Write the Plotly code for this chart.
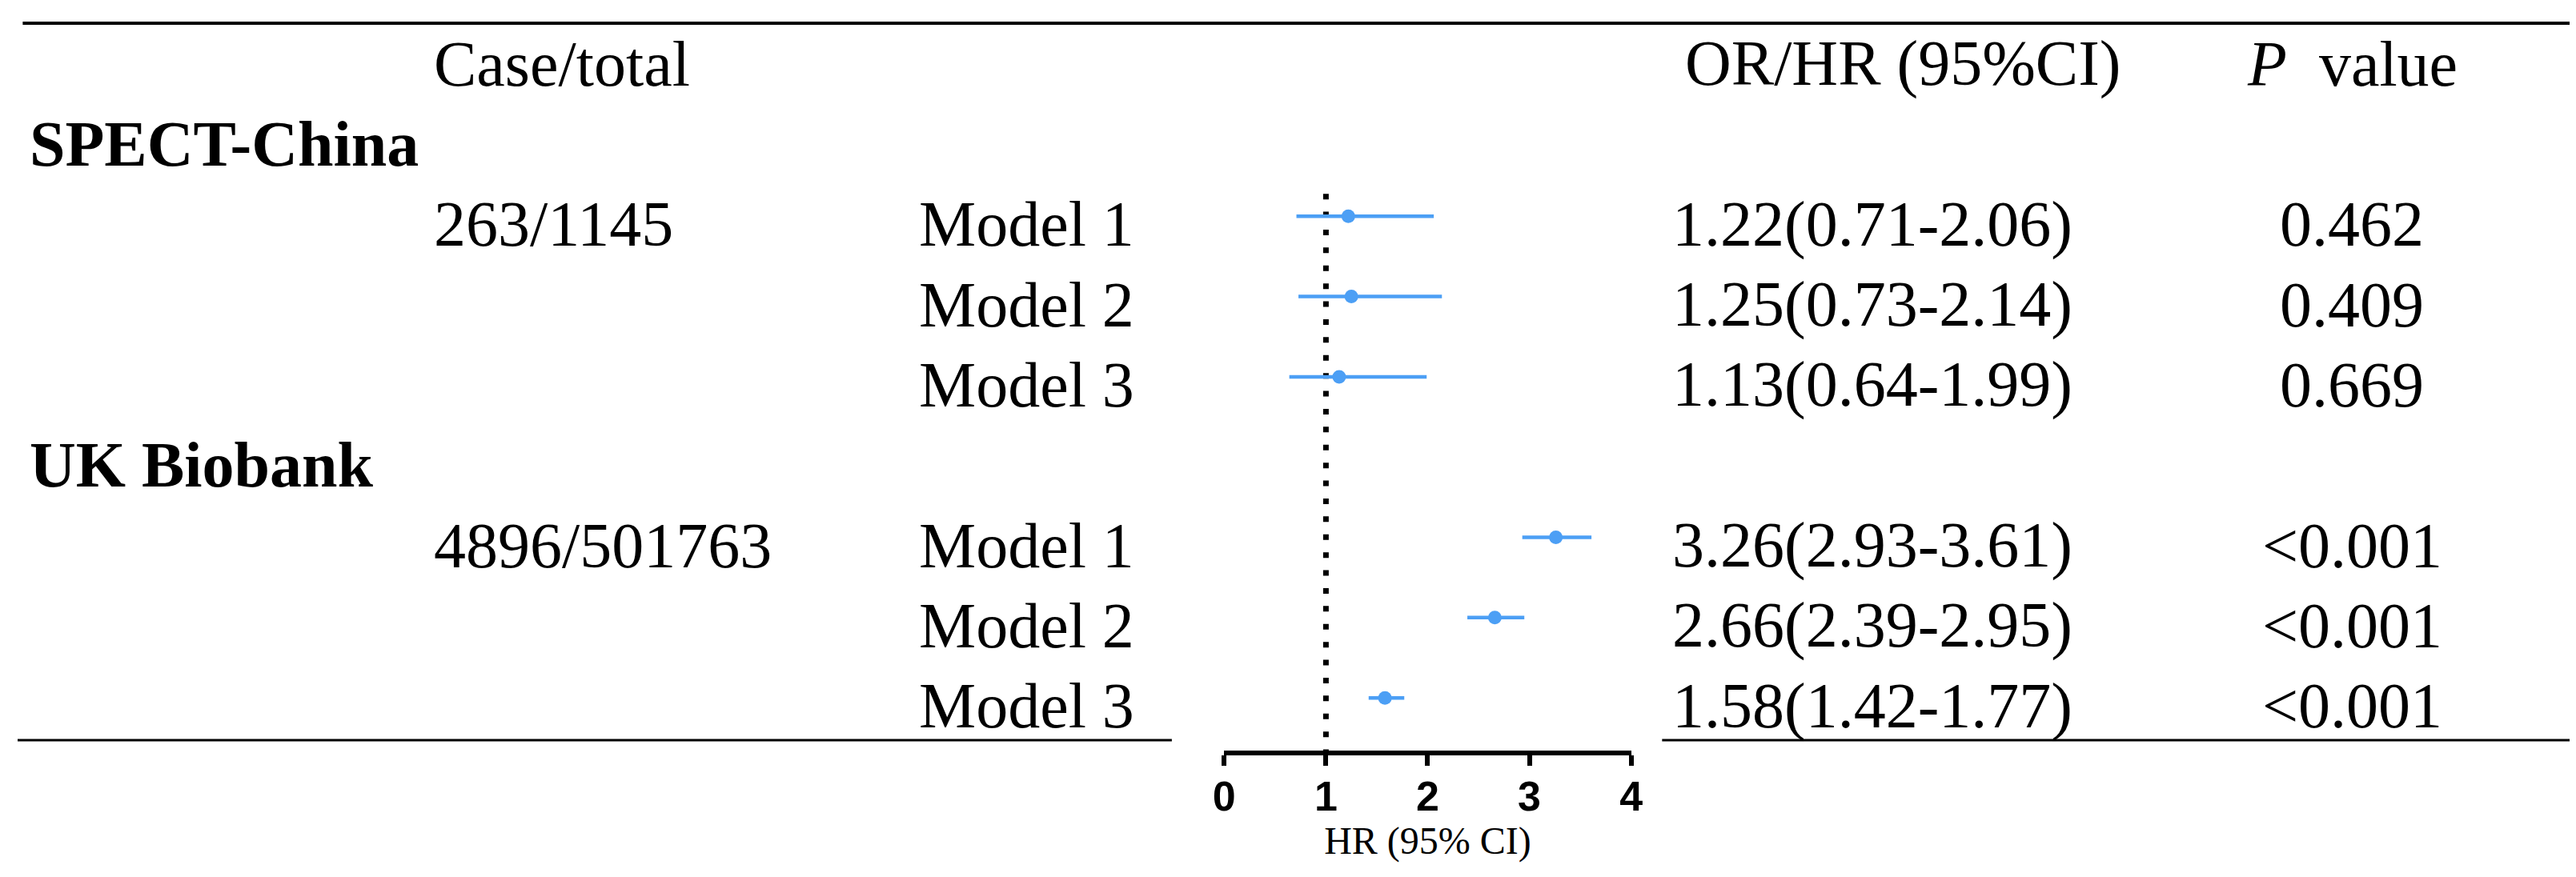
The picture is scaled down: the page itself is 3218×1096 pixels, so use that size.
import plotly.graph_objects as go

# Data
groups = ["SPECT-China", "UK Biobank"]
case_total = ["263/1145", "4896/501763"]
models = ["Model 1", "Model 2", "Model 3"]
hr = [1.22, 1.25, 1.13, 3.26, 2.66, 1.58]
ci_low = [0.71, 0.73, 0.64, 2.93, 2.39, 1.42]
ci_high = [2.06, 2.14, 1.99, 3.61, 2.95, 1.77]
p_values = ["0.462", "0.409", "0.669", "<0.001", "<0.001", "<0.001"]
x_ticks = [0, 1, 2, 3, 4]

# Layout constants
W, H = 3218, 1096
SERIF = "Liberation Serif, Times New Roman, serif"
SANS = "Liberation Sans, Arial, sans-serif"
BLUE = "#4c9ff5"
TXT = 80
col_group = 0.004
col_case = 0.1625
col_model = 0.3525
col_or = 0.6475
col_p = 0.9145
y_range = [8.656, -0.614]

# Rows: header 0, group title, then one row per model
group_rows = []
model_rows = []
for gi in range(len(groups)):
    g_row = 1 + gi * (len(models) + 1)
    group_rows.append(g_row)
    for mi in range(len(models)):
        model_rows.append(g_row + 1 + mi)

or_text = [f"{h:.2f}({l:.2f}-{u:.2f})" for h, l, u in zip(hr, ci_low, ci_high)]

fig = go.Figure()

fig.add_trace(go.Scatter(
    x=hr
    ,y=model_rows
    ,mode="markers"
    ,marker=dict(color=BLUE, size=17)
    ,error_x=dict(
        type="data"
        ,symmetric=False
        ,array=[u - h for h, u in zip(hr, ci_high)]
        ,arrayminus=[h - l for h, l in zip(hr, ci_low)]
        ,color=BLUE
        ,thickness=4.5
        ,width=0)
    ,showlegend=False
    ,hoverinfo="skip"))

# Dotted reference line at HR = 1
fig.add_shape(type="line", xref="x", yref="y", x0=1, x1=1, y0=1.72, y1=y_range[0],
              line=dict(color="black", width=7, dash="7px,15.4px"), layer="below")

# Table rules
fig.add_shape(type="line", xref="paper", yref="paper", x0=0.002, x1=1, y0=1 - 21 / H, y1=1 - 21 / H,
              line=dict(color="black", width=4))
for x0, x1 in [(0, 1455 / W), (2073 / W, 1)]:
    fig.add_shape(type="line", xref="paper", yref="paper", x0=x0, x1=x1, y0=1 - 917 / H, y1=1 - 917 / H,
                  line=dict(color="black", width=3))

def add_text(x, y, text, anchor="left", size=TXT):
    fig.add_annotation(x=x, y=y, xref="paper", yref="y", text=text, showarrow=False,
                       xanchor=anchor, yanchor="middle", yshift=-10,
                       font=dict(family=SERIF, size=size, color="black"))

# Header
add_text(col_case, 0, "Case/total")
add_text(col_or + 0.005, 0, "OR/HR (95%CI)")
add_text(col_p, 0, "<i>P</i>&nbsp; value", anchor="center")

for gi, g in enumerate(groups):
    add_text(col_group, group_rows[gi], f"<b>{g}</b>")
    add_text(col_case, group_rows[gi] + 1, case_total[gi])

for i, r in enumerate(model_rows):
    add_text(col_model, r, models[i % len(models)])
    add_text(col_or, r, or_text[i])
    add_text(col_p, r, p_values[i], anchor="center")

fig.update_layout(
    width=W
    ,height=H
    ,margin=dict(l=0, r=0, t=0, b=0)
    ,paper_bgcolor="white"
    ,plot_bgcolor="white"
    ,xaxis=dict(
        domain=[1521 / W, 2034 / W]
        ,range=[0, 4]
        ,tickvals=x_ticks
        ,showline=True
        ,linecolor="black"
        ,linewidth=6
        ,ticks="outside"
        ,ticklen=13
        ,tickwidth=6
        ,tickcolor="black"
        ,ticklabelstandoff=-6
        ,tickfont=dict(family=SANS, size=52, color="black", weight="bold")
        ,showgrid=False
        ,zeroline=False
        ,title=dict(text="HR (95% CI)", font=dict(family=SERIF, size=48, color="black"), standoff=12))
    ,yaxis=dict(
        domain=[1 - 930 / H, 1]
        ,range=y_range
        ,visible=False
        ,showgrid=False
        ,zeroline=False)
)

fig.write_html("out.html")
